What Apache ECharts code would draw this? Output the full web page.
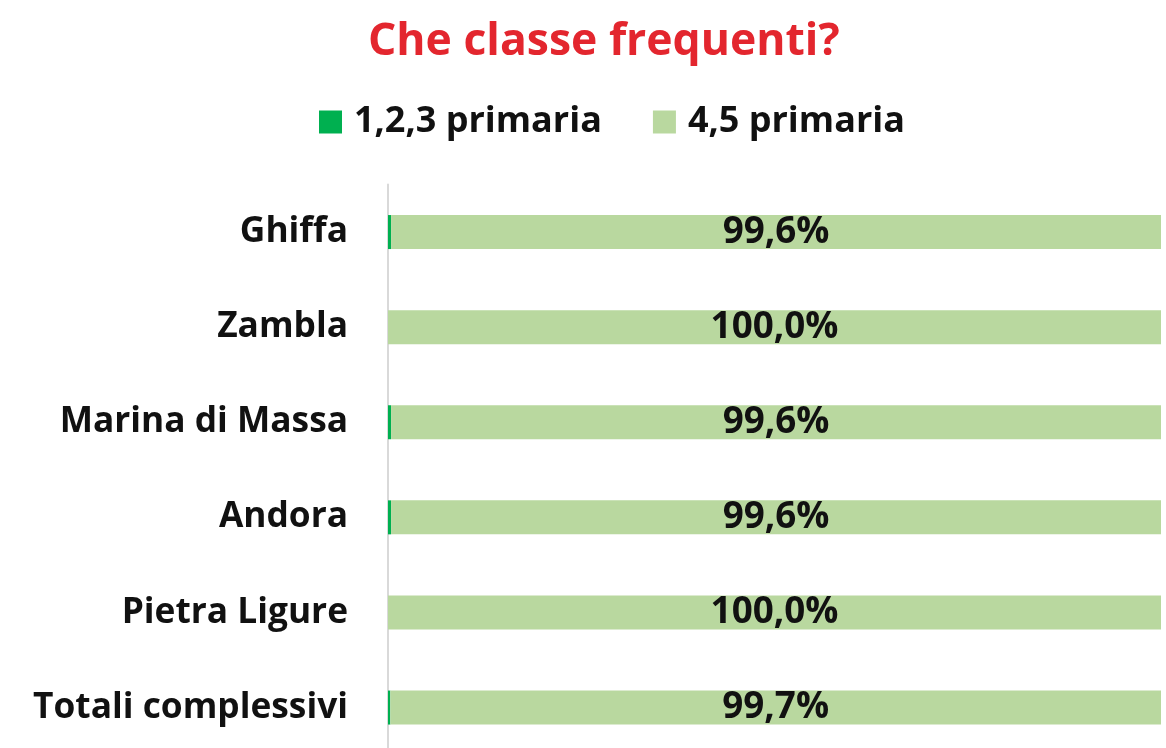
<!DOCTYPE html>
<html><head><meta charset="utf-8">
<script src="https://cdn.jsdelivr.net/npm/echarts@6/dist/echarts.min.js"></script>
<style>html,body{margin:0;padding:0;background:#fff}#c{width:1166px;height:748px}</style>
</head><body><div id="c"></div>
<script>
const categories = ['Ghiffa','Zambla','Marina di Massa','Andora','Pietra Ligure','Totali complessivi'];
const seriesNames = ['1,2,3 primaria','4,5 primaria'];
const primaria123 = [0.4, 0.0, 0.4, 0.4, 0.0, 0.3];
const primaria45 = [99.6, 100.0, 99.6, 99.6, 100.0, 99.7];
const titleText = 'Che classe frequenti?';
const FONT = 'Open Sans';
const chart = echarts.init(document.getElementById('c'));
chart.setOption({
  animation:false,
  title:{text:titleText,left:368,top:20,padding:0,textStyle:{color:'#E3262E',fontFamily:FONT,fontWeight:'bold',fontSize:44.5}},
  legend:{top:104,left:319,padding:0,itemWidth:23,itemHeight:23,itemGap:51,icon:'rect',
    textStyle:{fontFamily:FONT,fontWeight:'bold',fontSize:36,color:'#111',padding:[0,0,0,7]},data:seriesNames},
  grid:{left:388,right:5,top:184.5,height:570.6,containLabel:false,outerBoundsMode:'none'},
  xAxis:{type:'value',min:0,max:100,show:false},
  yAxis:{type:'category',data:categories,inverse:true,
    axisLine:{show:true,lineStyle:{color:'#D9D9D9',width:2}},axisTick:{show:false},
    axisLabel:{margin:40,fontFamily:FONT,fontWeight:'bold',fontSize:35.3,color:'#111',padding:[3,0,0,0]}},
  series:[
    {name:seriesNames[0],type:'bar',stack:'t',barWidth:34,data:primaria123,itemStyle:{color:'#00B050'}},
    {name:seriesNames[1],type:'bar',stack:'t',barWidth:34,data:primaria45,itemStyle:{color:'#B9D89F'},
     label:{show:true,position:'inside',fontFamily:FONT,fontWeight:'bold',fontSize:36.8,color:'#111',
       formatter:p=>p.value.toFixed(1).replace('.',',')+'%'}}
  ]
});
</script></body></html>
